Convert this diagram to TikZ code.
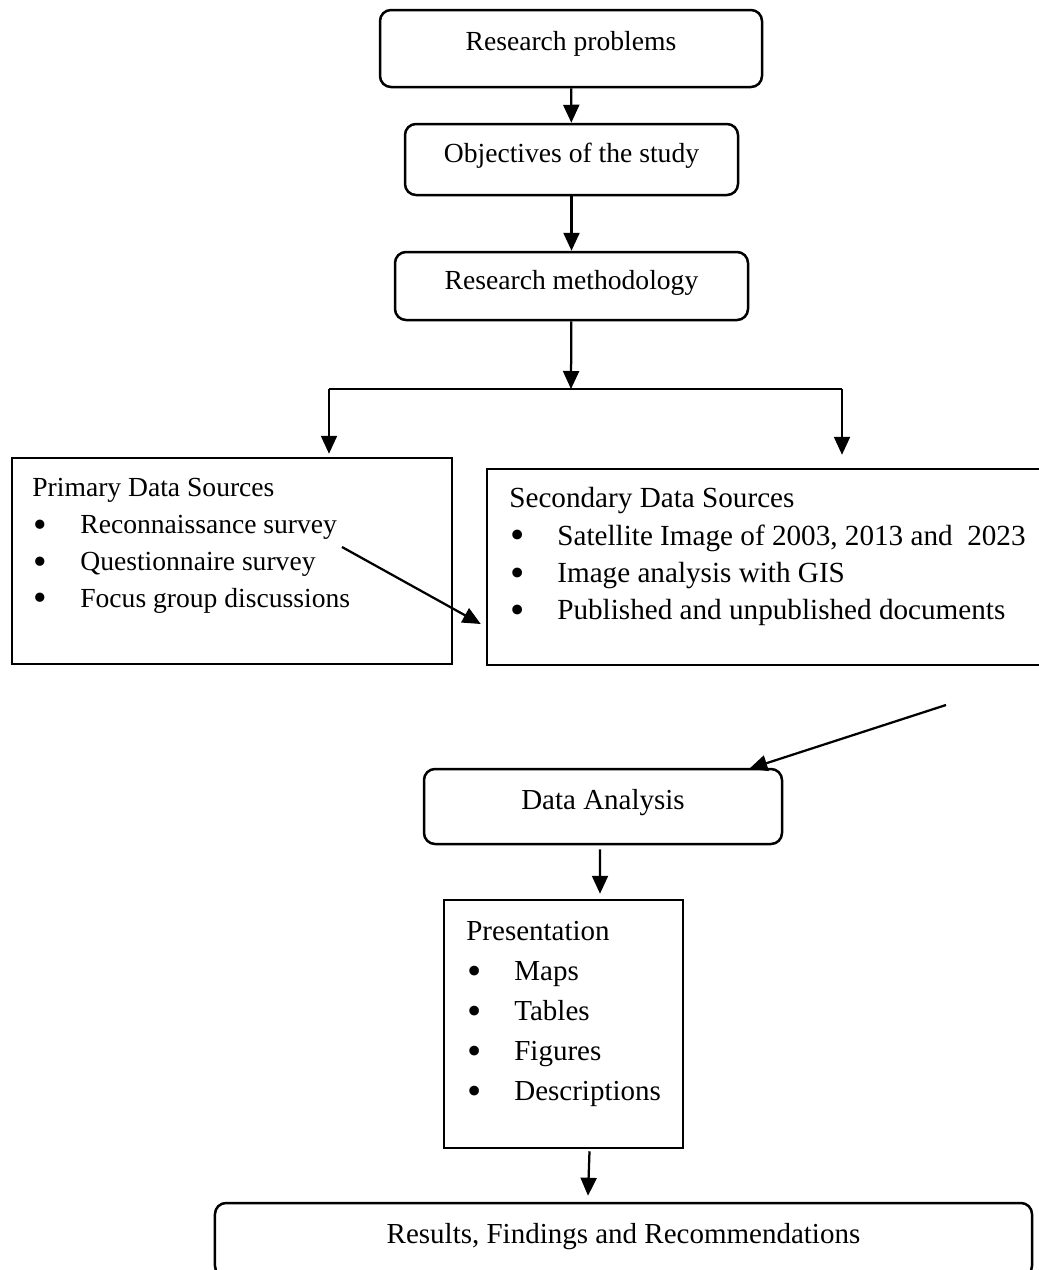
\documentclass[tikz,border=0pt]{standalone}
\usepackage{fontspec}
\usepackage{graphicx}
\setmainfont{Liberation Serif}
\usetikzlibrary{arrows.meta,calc,positioning}
\tikzset{
    rbox/.style={draw, line width=0.5mm, rounded corners=2.2mm, inner sep=0pt,
        text height=0.7em, text depth=0.33em},
    sbox/.style={draw, line width=0.5mm, inner sep=0pt},
    ltxt/.style={anchor=north west, inner sep=0pt, align=left},
    arr/.style={line width=0.45mm, -{Triangle[length=3.6mm,width=3.2mm]}},
}
\newcommand\bitem[1]{\makebox[9.6mm][l]{\hspace{0.3mm}\raisebox{-0.13em}{\scalebox{1.4}{\textbullet}}}#1}
\newcommand\bigfont{\fontsize{16.5}{21}\selectfont}
\begin{document}
\begin{tikzpicture}
    [x=0.2mm, y=-0.2mm, font=\fontsize{15.7}{21}\selectfont]
    \path[use as bounding box] (0,0) rectangle (1039,1270);
    \clip (0,0) rectangle (1039,1270);

    \node[rbox, minimum width=76.4mm, minimum height=15.4mm, text depth=0.51em] (rp) at (571,48.5) {Research problems};
    \node[rbox, minimum width=66.6mm, minimum height=14.2mm] (obj) at (571.5,159.5) {Objectives of the study};
    \node[rbox, minimum width=70.6mm, minimum height=13.6mm] (rm) at (571.5,286) {Research methodology};

    \node[sbox, minimum width=88mm, minimum height=41.2mm] (prim) at (232,561) {};
    \node[ltxt] (prim-txt) at (32,478) {Primary Data Sources\\
        \bitem{Reconnaissance survey}\\
        \bitem{Questionnaire survey}\\
        \bitem{Focus group discussions}};
    \node[sbox, minimum width=112.6mm, minimum height=39.2mm] (sec) at (768.5,567) {};
    \node[ltxt, font=\fontsize{16.6}{21.3}\selectfont] (sec-txt) at (509,487) {Secondary Data Sources\\
        \bitem{Satellite Image of 2003, 2013 and\ \ 2023}\\
        \bitem{Image analysis with GIS}\\
        \bitem{Published and unpublished documents}};

    \node[rbox, minimum width=71.6mm, minimum height=15mm, font=\bigfont] (da) at (603,806.5) {Data Analysis};

    \node[sbox, minimum width=47.8mm, minimum height=49.6mm] (pres) at (563.5,1024) {};
    \node[ltxt, font=\fontsize{16.5}{22.8}\selectfont] (pres-txt) at (466,921) {Presentation\\
        \bitem{Maps}\\
        \bitem{Tables}\\
        \bitem{Figures}\\
        \bitem{Descriptions}};

    \node[rbox, minimum width=163.4mm, minimum height=14.8mm, font=\bigfont] (res) at (623.5,1240) {Results, Findings and Recommendations};

    \draw[arr] (rp) -- (obj);
    \draw[arr] (obj) -- (rm);
    \coordinate (m) at (571,389);
    \coordinate (l) at (329,389);
    \coordinate (r) at (842,389);
    \draw[arr] (rm) -- (m);
    \draw[line width=0.3mm] (l) -- (r);
    \draw[arr] (l) -- ($(l |- prim.north)+(0,-3)$);
    \draw[arr] (r) -- ($(r |- sec.north)+(0,-13)$);
    \coordinate (p) at (342,547);
    \draw[arr] (p) -- ($(sec.west)+(-5,57)$);
    \coordinate (s) at (946,705);
    \draw[arr] (s) -- ($(da.north east)+(-34,1)$);
    \draw[arr] ($(da.south)+(-3,4)$) -- ($(pres.north)+(36.5,-5)$);
    \draw[arr] ($(pres.south)+(26,2)$) -- ($(res.north)+(-35.5,-6)$);
\end{tikzpicture}
\end{document}
